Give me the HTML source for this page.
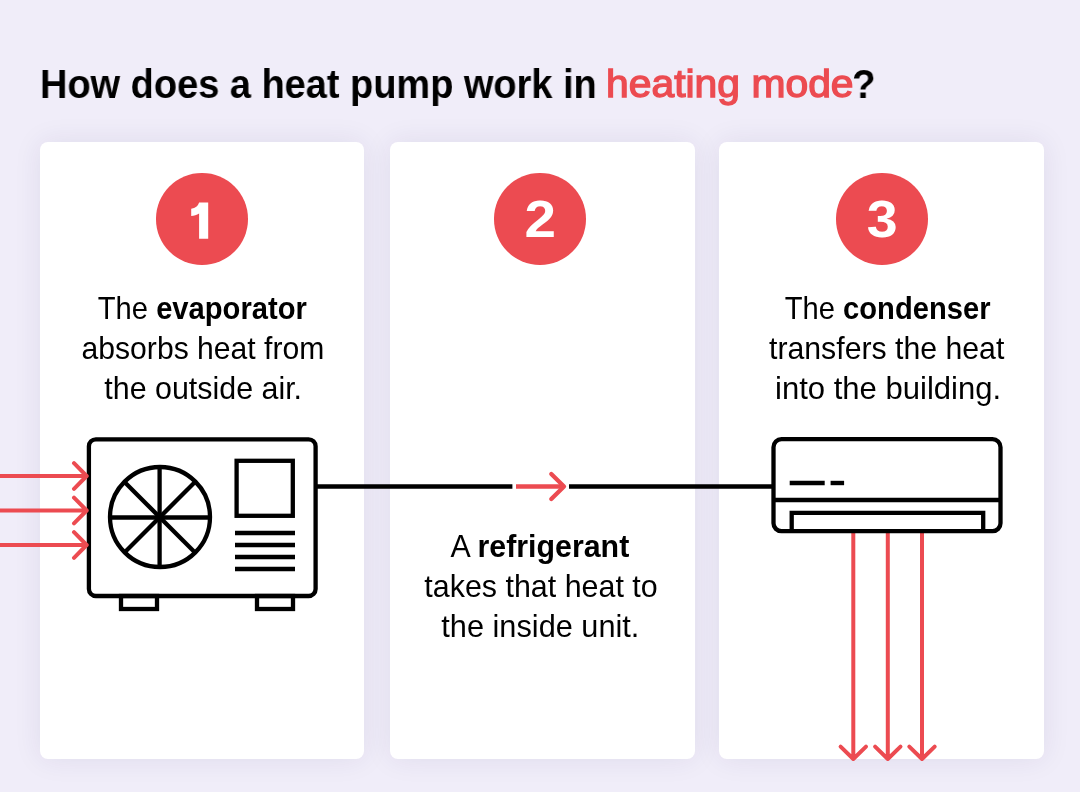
<!DOCTYPE html>
<html>
<head>
<meta charset="utf-8">
<title>How does a heat pump work in heating mode?</title>
<style>
  html, body { margin: 0; padding: 0; }
  body {
    width: 1080px; height: 792px; overflow: hidden; position: relative;
    background: #f0edf9;
    font-family: "Liberation Sans", sans-serif;
    color: #000;
  }
  .card {
    position: absolute; top: 142px; height: 617px;
    background: #ffffff; border-radius: 8px;
    box-shadow: 0 0 28px rgba(50, 40, 95, 0.085);
  }
  #c1 { left: 40px; width: 324px; }
  #c2 { left: 389.5px; width: 305.5px; }
  #c3 { left: 719px; width: 325px; }

  .title {
    position: absolute; top: 59.5px; height: 48px; line-height: 48px;
    font-size: 40px; font-weight: bold; white-space: nowrap;
    transform-origin: 0 50%;
  }
  .title.red { color: #ec4b51; font-weight: normal; font-size: 38.6px; -webkit-text-stroke: 1.35px #ec4b51; }
  .num {
    position: absolute; width: 91.5px; height: 91.5px; border-radius: 50%;
    background: #ec4b51; color: #fff; top: 173.3px;
    font-weight: bold; font-size: 51px; line-height: 91.5px; text-align: center;
  }
  .ln {
    position: absolute; width: 400px; margin-left: -200px; text-align: center;
    font-size: 30.5px; line-height: 40px; height: 40px; white-space: nowrap;
  }
  .num span { display: inline-block; }
  .ln b { font-weight: bold; }
  .ln span { display: inline-block; transform-origin: 50% 50%; }
  .title, .ln, .num { will-change: transform; }
  svg { position: absolute; left: 0; top: 0; }
</style>
</head>
<body>
  <div class="card" id="c1"></div>
  <div class="card" id="c2"></div>
  <div class="card" id="c3"></div>

  <div class="title" style="left:40.3px; transform:scaleX(0.9489)">How does a heat pump work in</div>
  <div class="title red" style="left:606.3px; transform:scaleX(1.059)">heating mode</div>
  <div class="title" style="left:851.6px; transform:scaleX(0.9660)">?</div>

  <div class="num" style="left:156.4px"></div>
  <div class="num" style="left:494px"><span style="transform:translateY(1.2px) scaleX(1.11)">2</span></div>
  <div class="num" style="left:835.9px"><span style="transform:translateY(1.2px) scaleX(1.09)">3</span></div>

  <div class="ln" style="left:202.3px; top:288.0px"><span style="transform:scaleX(0.9561)">The <b>evaporator</b></span></div>
  <div class="ln" style="left:202.6px; top:328.0px"><span style="transform:scaleX(0.9872)">absorbs heat from</span></div>
  <div class="ln" style="left:202.6px; top:367.7px"><span style="transform:scaleX(0.9965)">the outside air.</span></div>

  <div class="ln" style="left:540.2px; top:525.8px"><span style="transform:scaleX(0.9952)">A <b>refrigerant</b></span></div>
  <div class="ln" style="left:540.7px; top:565.8px"><span style="transform:scaleX(0.9975)">takes that heat to</span></div>
  <div class="ln" style="left:540.3px; top:605.6px"><span style="transform:scaleX(1.0071)">the inside unit.</span></div>

  <div class="ln" style="left:888.2px; top:288.0px"><span style="transform:scaleX(0.9555)">The <b>condenser</b></span></div>
  <div class="ln" style="left:887.1px; top:328.0px"><span style="transform:scaleX(0.9914)">transfers the heat</span></div>
  <div class="ln" style="left:888.2px; top:367.7px"><span style="transform:scaleX(1.0173)">into the building.</span></div>

  <svg width="1080" height="792" viewBox="0 0 1080 792" fill="none" stroke-linecap="butt">
    <!-- connecting line -->
    <g stroke="#000" stroke-width="4.5">
      <line x1="316" y1="486.5" x2="512.4" y2="486.5"/>
      <line x1="569" y1="486.5" x2="773" y2="486.5"/>
    </g>
    <!-- outdoor unit -->
    <g stroke="#000" stroke-width="4.3">
      <rect x="88.9" y="439.3" width="226.7" height="156.7" rx="7" ry="7" fill="#fff"/>
      <rect x="121" y="596" width="36" height="13"/>
      <rect x="257" y="596" width="36" height="13"/>
      <circle cx="160" cy="517" r="50" stroke-width="4.3"/>
      <line x1="110" y1="517.5" x2="210" y2="517.5"/>
      <line x1="159.6" y1="467" x2="159.6" y2="567"/>
      <line x1="124.5" y1="482" x2="195" y2="552.5"/>
      <line x1="124.5" y1="552.5" x2="195" y2="482"/>
      <rect x="236.6" y="460.8" width="56.2" height="55"/>
      <line x1="235" y1="533" x2="295" y2="533"/>
      <line x1="235" y1="545" x2="295" y2="545"/>
      <line x1="235" y1="557" x2="295" y2="557"/>
      <line x1="235" y1="569" x2="295" y2="569"/>
    </g>
    <g stroke="#ec4b51" stroke-width="4" stroke-linecap="round" stroke-linejoin="round">
      <path d="M853.3 533 V759 M840.6 746.6 L853.3 759 L866 746.6" />
      <path d="M887.8 533 V759 M875.1 746.6 L887.8 759 L900.5 746.6" />
      <path d="M922 533 V759 M909.3 746.6 L922 759 L934.7 746.6" />
    </g>
    <!-- indoor unit -->
    <g stroke="#000" stroke-width="4.3">
      <rect x="773.5" y="439.2" width="227" height="92" rx="8" ry="8" fill="#fff"/>
      <line x1="773.5" y1="500" x2="1000.5" y2="500"/>
      <path d="M791.7 531.2 V512.8 H983.2 V531.2"/>
      <line x1="789.7" y1="483" x2="824.7" y2="483" stroke-width="4.4"/>
      <line x1="830.6" y1="483" x2="844.1" y2="483" stroke-width="4.4"/>
    </g>
    <!-- red arrows -->
    <g stroke="#ec4b51" stroke-width="4" stroke-linecap="round" stroke-linejoin="round">
      <path d="M0 476 H86.5 M74 463.2 L86.7 476 L74 488.8" />
      <path d="M0 510.5 H86.5 M74 497.7 L86.7 510.5 L74 523.3" />
      <path d="M0 545 H86.5 M74 532.2 L86.7 545 L74 557.8" />
      <path d="M516 486.5 H563" stroke-linecap="butt" stroke-width="4.5"/>
      <path d="M551.3 474 L564 486.5 L551.3 499" stroke-width="4.3"/>
    </g>
    <!-- digit 1 -->
    <path fill="#fff" stroke="none" d="M199.1 202.4 H208.2 V238.8 H199.1 V213.4 C196.6 214.8 194.2 215.6 191.2 215.9 V208.7 C195.4 208.2 198 206 199.1 202.4 Z"/>
  </svg>
</body>
</html>
